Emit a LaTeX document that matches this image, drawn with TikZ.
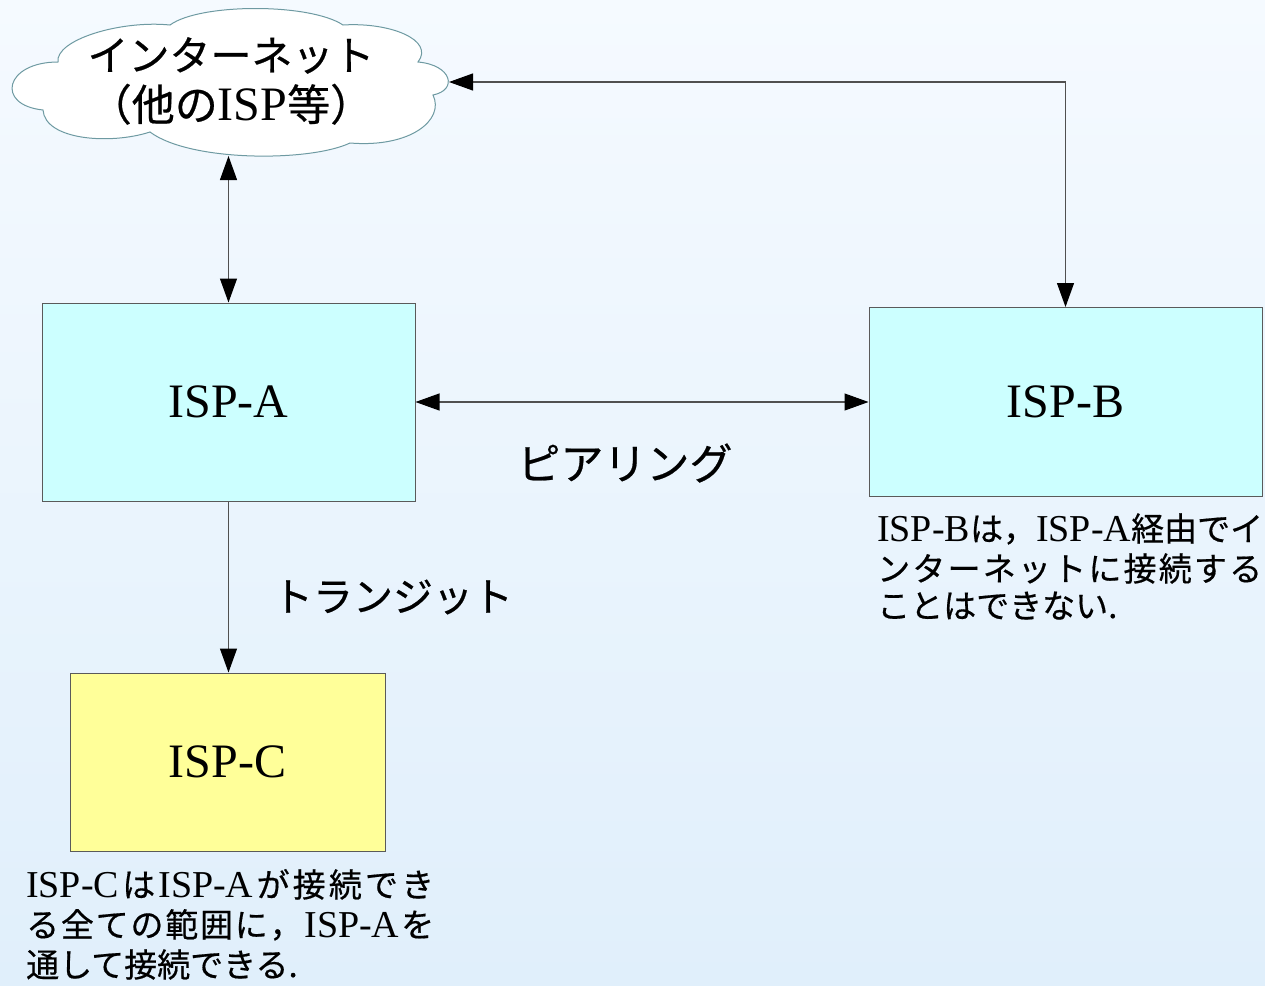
\documentclass[tikz,border=0pt]{standalone}
\usepackage{fontspec}
\setmainfont{Liberation Serif}
\newfontfamily\jp[FakeBold=0.5]{Noto Sans CJK JP}
\usetikzlibrary{arrows.meta}
\definecolor{bgtop}{HTML}{F5FAFF}
\definecolor{bgbot}{HTML}{E0EFFB}
\definecolor{cyanfill}{HTML}{CCFFFF}
\definecolor{yellowfill}{HTML}{FFFF99}
\definecolor{boxline}{HTML}{5A5A5A}
\definecolor{cloudline}{HTML}{6E9AA2}
\definecolor{connline}{HTML}{505050}
\newcommand\lat[1]{{\rmfamily\fontsize{38}{40}\selectfont #1}}
\makeatletter
\def\spreadchars#1{\spread@first#1\relax}
\def\spread@first#1{#1\spread@rest}
\def\spread@rest#1{\ifx\relax#1\else\hfil #1\expandafter\spread@rest\fi}
\makeatother
\begin{document}
\begin{tikzpicture}[x=1pt,y=-1pt,
  conn/.style={draw=connline, line width=1.1pt, >={Triangle[length=24pt,width=17pt,color=black]}},
  cloudshape/.style={draw=cloudline, fill=white, line width=1pt},
  ispbox/.style={draw=boxline, line width=1pt, font=\fontsize{48}{56}\selectfont, inner sep=0pt},
  jlabel/.style={font=\jp\fontsize{40}{48}\selectfont, inner sep=0pt},
  note/.style={anchor=base west, inner sep=0pt, font=\jp\fontsize{33}{40}\selectfont},
]
\shade[top color=bgtop, bottom color=bgbot] (0,0) rectangle (1265,985);
\useasboundingbox (0,0) rectangle (1265,985);

% cloud outline
\path[cloudshape] (58,62)
  .. controls (55,40) and (120,20) .. (170,25)
  .. controls (200,3) and (310,3) .. (343,25)
  .. controls (390,22) and (435,40) .. (418,62)
  .. controls (452,65) and (458,90) .. (433,95)
  .. controls (445,120) and (410,148) .. (350,143)
  .. controls (310,162) and (190,162) .. (150,132)
  .. controls (110,145) and (45,140) .. (43,110)
  .. controls (-5,105) and (5,62) .. (58,62) -- cycle;
\coordinate (netR) at (449,82);
\coordinate (netB) at (229,156);
\node[inner sep=0pt, align=center, font=\jp\fontsize{41}{50}\selectfont] (net) at (231,81)
  {インターネット\\{\fontsize{43}{50}\selectfont （他の{\rmfamily\fontsize{48}{50}\selectfont ISP}等）}};

\node[ispbox, fill=cyanfill, minimum width=373pt, minimum height=198pt] (a) at (228.5,402) {ISP-A};
\node[ispbox, fill=cyanfill, minimum width=393pt, minimum height=189pt] (b) at (1065.5,402) {ISP-B};
\node[ispbox, fill=yellowfill, minimum width=315pt, minimum height=178pt] (c) at (227.5,762) {ISP-C};

\draw[conn,<->] (a.north) -- (a.north |- netB);
\draw[conn,<->] (netR) -| (b.north);
\draw[conn,<->] (a.east) -- (b.west);
\draw[conn,->] (a.south) -- (a.south |- c.north);

\node[jlabel, font=\jp\fontsize{43}{48}\selectfont] (peer) at (625,463) {ピアリング};
\node[jlabel] (transit) at (393,597) {トランジット};

\node[note] (nb1) at (877,541) {\hbox to 385pt{\spreadchars{{\lat{ISP-B}}は，{\lat{ISP-A}}経由でイ}}};
\node[note] (nb2) at (877,581) {\hbox to 385pt{\spreadchars{ンターネットに接続する}}};
\node[note] (nb3) at (877,618) {ことはできない.};

\node[note] (nc1) at (26,897) {\hbox to 408pt{\spreadchars{{\lat{ISP-C}}は{\lat{ISP-A}}が接続でき}}};
\node[note] (nc2) at (26,937) {\hbox to 408pt{\spreadchars{る全ての範囲に，{\lat{ISP-A}}を}}};
\node[note] (nc3) at (26,977) {通して接続できる.};
\end{tikzpicture}
\end{document}
